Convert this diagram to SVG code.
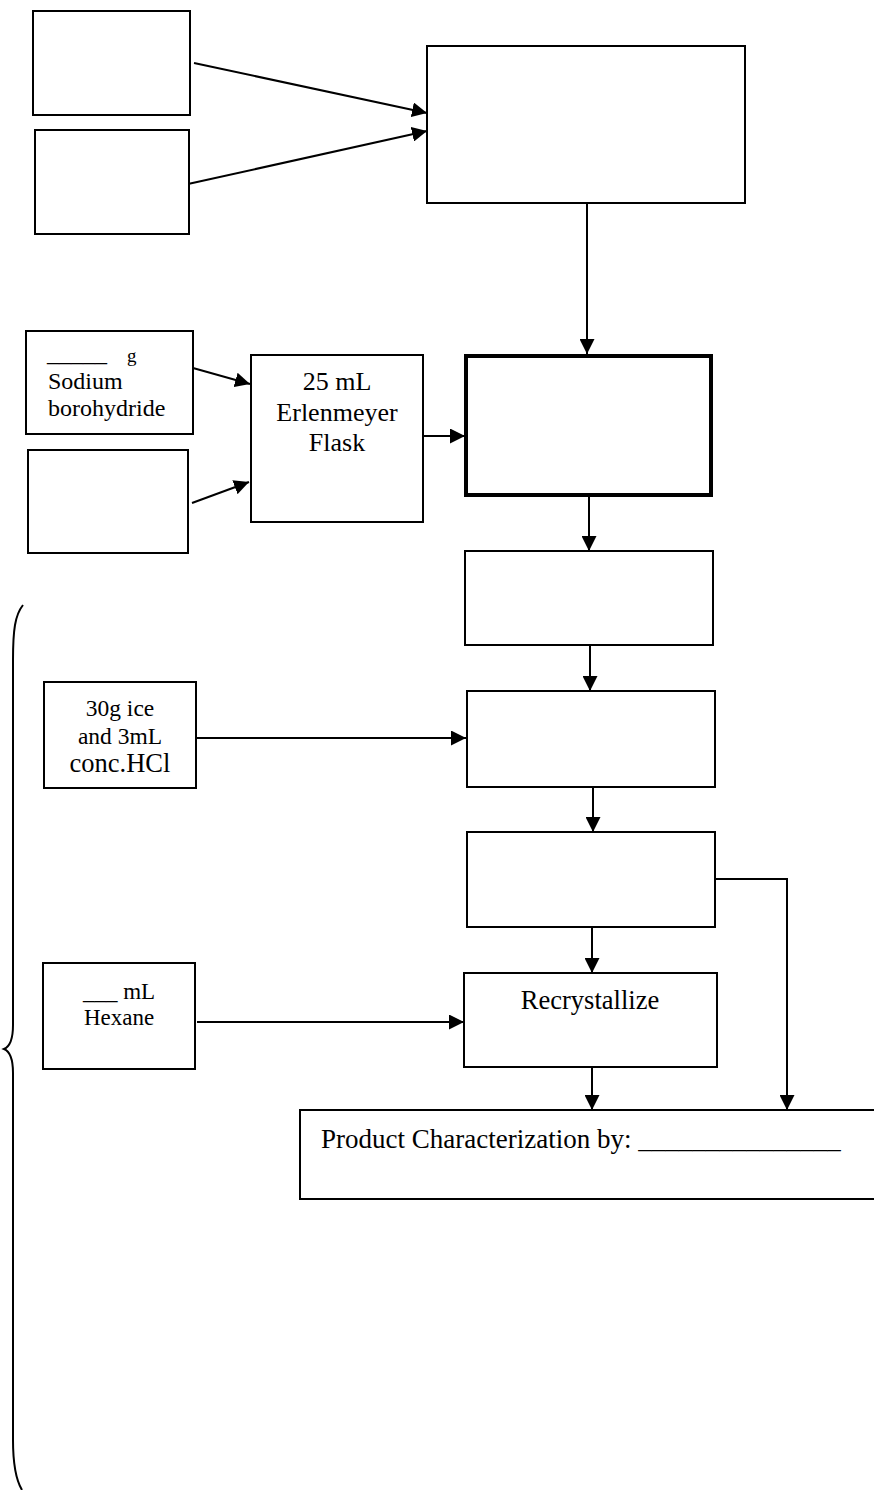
<svg xmlns="http://www.w3.org/2000/svg" width="874" height="1490" viewBox="0 0 874 1490">
<defs>
<style>
.box{fill:#fff;stroke:#000;stroke-width:2}
.thick{fill:#fff;stroke:#000;stroke-width:4}
.ln{fill:none;stroke:#000;stroke-width:2}
.t{font-family:"Liberation Serif","Times New Roman",serif;fill:#000}
</style>
<marker id="ah" markerUnits="userSpaceOnUse" markerWidth="15" markerHeight="15" refX="15" refY="7.5" orient="auto">
<path d="M0,0 L15,7.5 L0,15 z" fill="#000"/>
</marker>
</defs>
<rect width="874" height="1490" fill="#fff"/>

<g id="brace"><path class="ln" d="M23,605 C15,615 13,630 13,660 L13,1025 C13,1040 9,1047 4,1049 C9,1051 13,1058 13,1073 L13,1440 C13,1465 16,1480 22,1490"/></g>

<g id="connectors">
<line class="ln" x1="194" y1="63" x2="427" y2="113" marker-end="url(#ah)"/>
<line class="ln" x1="188" y1="184" x2="427" y2="131" marker-end="url(#ah)"/>
<line class="ln" x1="587" y1="203" x2="587" y2="354" marker-end="url(#ah)"/>
<line class="ln" x1="193" y1="368" x2="250" y2="384" marker-end="url(#ah)"/>
<line class="ln" x1="192" y1="503" x2="249" y2="482" marker-end="url(#ah)"/>
<line class="ln" x1="423" y1="436" x2="465" y2="436" marker-end="url(#ah)"/>
<line class="ln" x1="589" y1="495" x2="589" y2="551" marker-end="url(#ah)"/>
<line class="ln" x1="590" y1="645" x2="590" y2="691" marker-end="url(#ah)"/>
<line class="ln" x1="197" y1="738" x2="466" y2="738" marker-end="url(#ah)"/>
<line class="ln" x1="593" y1="787" x2="593" y2="832" marker-end="url(#ah)"/>
<line class="ln" x1="592" y1="927" x2="592" y2="973" marker-end="url(#ah)"/>
<line class="ln" x1="197" y1="1022" x2="464" y2="1022" marker-end="url(#ah)"/>
<line class="ln" x1="592" y1="1067" x2="592" y2="1110" marker-end="url(#ah)"/>
<polyline class="ln" points="715,879 787,879 787,1110" marker-end="url(#ah)"/>
</g>

<g id="nodeA"><rect class="box" x="33" y="11" width="157" height="104"/></g>
<g id="nodeB"><rect class="box" x="35" y="130" width="154" height="104"/></g>
<g id="nodeC"><rect class="box" x="427" y="46" width="318" height="157"/></g>

<g id="nodeD">
<rect class="box" x="26" y="331" width="167" height="103"/>
<text class="t" x="47" y="361" font-size="24">_____</text>
<text class="t" x="127" y="362" font-size="19">g</text>
<text class="t" x="48" y="389" font-size="24">Sodium</text>
<text class="t" x="48" y="416" font-size="24">borohydride</text>
</g>
<g id="nodeE"><rect class="box" x="28" y="450" width="160" height="103"/></g>
<g id="nodeF">
<rect class="box" x="251" y="355" width="172" height="167"/>
<text class="t" x="337" y="390" font-size="26" text-anchor="middle">25 mL</text>
<text class="t" x="337" y="421" font-size="26" text-anchor="middle">Erlenmeyer</text>
<text class="t" x="337" y="451" font-size="26" text-anchor="middle">Flask</text>
</g>
<g id="nodeG"><rect class="thick" x="466" y="356" width="245" height="139"/></g>
<g id="nodeH"><rect class="box" x="465" y="551" width="248" height="94"/></g>
<g id="nodeI"><rect class="box" x="467" y="691" width="248" height="96"/></g>
<g id="nodeJ">
<rect class="box" x="44" y="682" width="152" height="106"/>
<text class="t" x="120" y="716" font-size="23.5" text-anchor="middle">30g ice</text>
<text class="t" x="120" y="744" font-size="23.5" text-anchor="middle">and 3mL</text>
<text class="t" x="120" y="772" font-size="26.5" text-anchor="middle">conc.HCl</text>
</g>
<g id="nodeK"><rect class="box" x="467" y="832" width="248" height="95"/></g>
<g id="nodeHexane">
<rect class="box" x="43" y="963" width="152" height="106"/>
<text class="t" x="119" y="999" font-size="23" text-anchor="middle">___ mL</text>
<text class="t" x="119" y="1025" font-size="23" text-anchor="middle">Hexane</text>
</g>
<g id="nodeRecrystallize">
<rect class="box" x="464" y="973" width="253" height="94"/>
<text class="t" x="590" y="1009" font-size="26.5" text-anchor="middle">Recrystallize</text>
</g>
<g id="nodeProduct">
<rect class="box" x="300" y="1110" width="590" height="89"/>
<text class="t" x="321" y="1148" font-size="27">Product Characterization by: _______________</text>
</g>
</svg>
